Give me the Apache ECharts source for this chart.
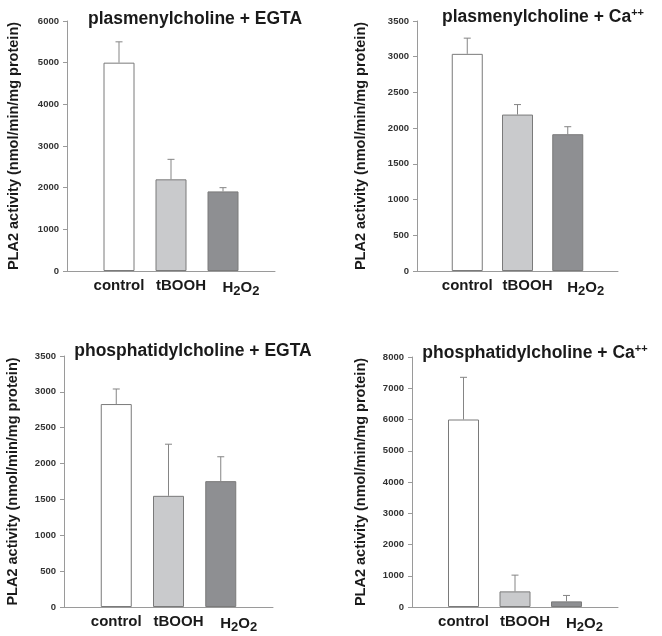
<!DOCTYPE html>
<html><head><meta charset="utf-8">
<script src="https://cdn.jsdelivr.net/npm/echarts@6/dist/echarts.min.js"></script>
<style>html,body{margin:0;padding:0;background:#fff}#c{width:662px;height:636px}</style>
</head><body><div id="c"></div>
<script>
// ---- data ----
const categories = ['', 'control', 'tBOOH', 'H2O2', ''];
const titles = ['plasmenylcholine + EGTA', 'plasmenylcholine + Ca', 'phosphatidylcholine + EGTA', 'phosphatidylcholine + Ca'];
const titleSup = ['', '++', '', '++'];
const yAxisName = 'PLA2 activity (nmol/min/mg protein)';
const yMax = [6000, 3500, 3500, 8000];
const yStep = [1000, 500, 500, 1000];
// means: control, tBOOH, H2O2
const meanPlasEGTA = [5000, 2200, 1910];
const meanPlasCa = [3040, 2190, 1915];
const meanPhosEGTA = [2830, 1550, 1755];
const meanPhosCa = [6000, 500, 180];
// upper end of error bars
const upperPlasEGTA = [5500, 2680, 2000];
const upperPlasCa = [3260, 2330, 2020];
const upperPhosEGTA = [3040, 2270, 2095];
const upperPhosCa = [7350, 1020, 370];

const means = [meanPlasEGTA, meanPlasCa, meanPhosEGTA, meanPhosCa];
const uppers = [upperPlasEGTA, upperPlasCa, upperPhosEGTA, upperPhosCa];

// ---- layout ----
const grids = [
  {left: 67, top: 21, width: 208, height: 250},
  {left: 417, top: 21, width: 201, height: 250},
  {left: 64, top: 356, width: 209, height: 251},
  {left: 412, top: 357, width: 206, height: 250}
];
const nameGaps = [46, 49, 44, 44];
const titlePos = [[195, 19], [543, 17], [193, 351], [535, 353]];
const barColors = ['#ffffff', '#c9cacc', '#8e8f92'];

const chart = echarts.init(document.getElementById('c'));
const font = 'Liberation Sans, Arial, sans-serif';
const lblBase = {fontSize: 15, fontWeight: 'bold', fontFamily: font, color: '#1a1a1a'};

const xAxes = [], yAxes = [], series = [], graphics = [];
grids.forEach((g, i) => {
  xAxes.push({
    type: 'category', gridIndex: i, data: categories, boundaryGap: false,
    axisLine: {lineStyle: {color: '#9a9a9a', width: 1}},
    axisTick: {show: false},
    axisLabel: {
      interval: 0, margin: 7, color: '#1a1a1a', fontFamily: font, fontWeight: 'bold', fontSize: 15,
      formatter: v => {
        if (v === 'H2O2') return '{h|H}{s|2}{n|O}{s|2}';
        if (v === 'tBOOH') return '{b|tBOOH}';
        return v;
      },
      rich: {
        n: Object.assign({}, lblBase),
        h: Object.assign({}, lblBase, {padding: [0, 0, 0, 36]}),
        b: Object.assign({}, lblBase, {padding: [0, 0, 0, 20]}),
        s: {fontSize: 13, fontWeight: 'bold', fontFamily: font, color: '#1a1a1a', padding: [7, 0, 0, 0]}
      }
    }
  });
  yAxes.push({
    type: 'value', gridIndex: i, min: 0, max: yMax[i], interval: yStep[i],
    name: yAxisName, nameLocation: 'middle', nameGap: nameGaps[i], nameRotate: 90,
    nameTextStyle: {fontFamily: font, fontWeight: 'bold', fontSize: 14.5, color: '#1a1a1a'},
    axisLine: {show: true, lineStyle: {color: '#9a9a9a', width: 1}},
    axisTick: {show: true, length: 4, lineStyle: {color: '#9a9a9a'}},
    splitLine: {show: false},
    axisLabel: {margin: 8, fontFamily: font, fontWeight: 'bold', fontSize: 9.5, color: '#333',
      formatter: v => String(v)}
  });
  series.push({
    type: 'bar', xAxisIndex: i, yAxisIndex: i, barWidth: 31,
    data: ['-'].concat(means[i].map((v, k) => ({value: v, itemStyle: {color: barColors[k]}}))).concat(['-']),
    itemStyle: {borderColor: '#7a7a7a', borderWidth: 1},
    silent: true, animation: false
  });
  series.push({
    type: 'custom', xAxisIndex: i, yAxisIndex: i, silent: true, animation: false,
    data: means[i].map((m, k) => [k + 1, m, uppers[i][k]]),
    encode: {x: 0, y: [1, 2]},
    renderItem: (params, api) => {
      const p0 = api.coord([api.value(0), api.value(1)]);
      const p1 = api.coord([api.value(0), api.value(2)]);
      const st = {stroke: '#858585', lineWidth: 1};
      return {type: 'group', children: [
        {type: 'line', shape: {x1: p0[0], y1: p0[1], x2: p1[0], y2: p1[1]}, style: st},
        {type: 'line', shape: {x1: p1[0] - 3.5, y1: p1[1], x2: p1[0] + 3.5, y2: p1[1]}, style: st}
      ]};
    },
    z: 3
  });
  graphics.push({
    type: 'text', x: titlePos[i][0], y: titlePos[i][1],
    style: {
      text: '{t|' + titles[i] + '}' + (titleSup[i] ? '{p|' + titleSup[i] + '}' : ''),
      align: 'center', verticalAlign: 'middle',
      rich: {
        t: {fontSize: 17.5, fontWeight: 'bold', fontFamily: font, fill: '#1a1a1a', lineHeight: 20},
        p: {fontSize: 11, fontWeight: 'bold', fontFamily: font, fill: '#1a1a1a', padding: [0, 0, 9, 0], lineHeight: 11}
      }
    }
  });
});

chart.setOption({
  animation: false,
  backgroundColor: '#ffffff',
  grid: grids,
  xAxis: xAxes,
  yAxis: yAxes,
  series: series,
  graphic: graphics
});
</script></body></html>
